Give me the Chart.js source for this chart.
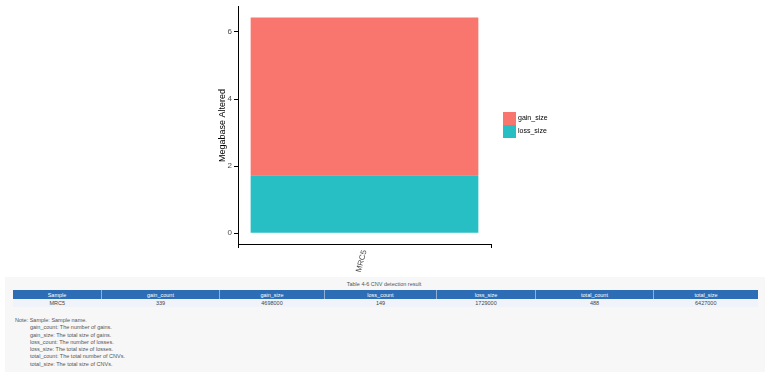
<!DOCTYPE html>
<html>
<head>
<meta charset="utf-8">
<script src="https://cdn.jsdelivr.net/npm/chart.js@4.4.1/dist/chart.umd.min.js"></script>
<style>
  body { margin: 0; background: #fff; width: 768px; height: 376px; overflow: hidden; position: relative; font-family: "Liberation Sans", Arial, sans-serif; }
  #chartBox { position: absolute; left: 0; top: 0; width: 768px; height: 276px; }
  .panel { position: absolute; left: 5px; top: 277px; width: 760px; height: 95px; background: #f7f7f7; }
  .caption { position: absolute; left: 0; top: 281px; width: 768px; text-align: center; font-size: 5.5px; color: #555; }
  table { position: absolute; left: 13px; top: 290px; border-collapse: collapse; table-layout: fixed; width: 739px; }
  th { background: #2d6db5; color: #fff; font-weight: normal; font-size: 5.5px; height: 9px; padding: 0; border-left: 1px solid #8fb0d8; }
  th:first-child { border-left: none; }
  td { background: #f0f4fa; color: #444; font-size: 5.5px; height: 8px; padding: 0; text-align: center; }
  .notes { position: absolute; left: 15px; top: 317px; font-size: 5.5px; color: #555; line-height: 7.3px; }
  .notes div.ind { padding-left: 15px; }
</style>
</head>
<body>
<div id="chartBox"><canvas id="chartCanvas" width="768" height="276"></canvas></div>
<div class="panel"></div>
<div class="caption" id="caption"></div>
<table id="dataTable"><thead><tr></tr></thead><tbody></tbody></table>
<div class="notes" id="notes"></div>
<script>
// Chart data (Megabase)
const samples = ['MRC5'];
const gainSize = [4.698];
const lossSize = [1.729];
const yTicks = [0, 2, 4, 6];

// Table data
const tableTitle = 'Table 4-6 CNV detection result';
const tableColumns = ['Sample', 'gain_count', 'gain_size', 'loss_count', 'loss_size', 'total_count', 'total_size'];
const tableRow = ['MRC5', '339', '4698000', '149', '1729000', '488', '6427000'];
const colWidths = [88, 117, 104, 111, 98, 117, 104];
const noteLines = [
    'Note: Sample: Sample name.',
    'gain_count: The number of gains.',
    'gain_size: The total size of gains.',
    'loss_count: The number of losses.',
    'loss_size: The total size of losses.',
    'total_count: The total number of CNVs.',
    'total_size: The total size of CNVs.'
];

// legend drawn on the right like ggplot
const sideLegend = {
    id: 'sideLegend',
    afterDraw(chart) {
        const c = chart.ctx;
        const box = 13;
        const x = chart.chartArea.right + 12;
        const ds = chart.data.datasets.slice().reverse();
        let y = 112;
        c.save();
        c.font = '7px "Liberation Sans", Arial, sans-serif';
        c.textBaseline = 'middle';
        ds.forEach(d => {
            c.fillStyle = d.backgroundColor;
            c.fillRect(x, y, box, box);
            c.fillStyle = '#000';
            c.fillText(d.label, x + box + 2, y + box / 2);
            y += box;
        });
        c.restore();
    }
};

const ctx = document.getElementById('chartCanvas').getContext('2d');
const cnvChart = new Chart(ctx, {
    type: 'bar',
    data: {
        labels: samples,
        datasets: [
            { label: 'loss_size', data: lossSize, backgroundColor: '#27BFC4' },
            { label: 'gain_size', data: gainSize, backgroundColor: '#F8766D' }
        ]
    },
    options: {
        responsive: false,
        animation: false,
        layout: { padding: { left: 217, right: 277, top: 3, bottom: 0 } },
        datasets: { bar: { barPercentage: 0.9, categoryPercentage: 1 } },
        plugins: { legend: { display: false }, tooltip: { enabled: false } },
        scales: {
            x: {
                stacked: true,
                offset: true,
                grid: { drawOnChartArea: false, color: '#000', tickLength: 4 },
                border: { display: true, color: '#000', width: 1 },
                ticks: {
                    minRotation: 75, maxRotation: 75, padding: 1,
                    color: '#4d4d4d',
                    font: { family: '"Liberation Sans", Arial, sans-serif', size: 8 }
                },
                afterFit(scale) { scale.height = 32; }
            },
            y: {
                stacked: true,
                min: -0.321,
                max: 6.748,
                grid: { drawOnChartArea: false, color: '#000', tickLength: 4 },
                border: { display: true, color: '#000', width: 1 },
                ticks: {
                    padding: 2,
                    color: '#4d4d4d',
                    font: { family: '"Liberation Sans", Arial, sans-serif', size: 8 }
                },
                afterBuildTicks(scale) { scale.ticks = yTicks.map(v => ({ value: v })); },
                title: {
                    display: true,
                    text: 'Megabase Altered',
                    color: '#000',
                    padding: 0,
                    font: { family: '"Liberation Sans", Arial, sans-serif', size: 9 }
                },
                afterFit(scale) { scale.width = 21; }
            }
        }
    },
    plugins: [sideLegend]
});

// Build the table under the chart
document.getElementById('caption').textContent = tableTitle;
const headRow = document.querySelector('#dataTable thead tr');
tableColumns.forEach((name, i) => {
    const th = document.createElement('th');
    th.textContent = name;
    th.style.width = colWidths[i] + 'px';
    headRow.appendChild(th);
});
const bodyRow = document.createElement('tr');
tableRow.forEach(v => {
    const td = document.createElement('td');
    td.textContent = v;
    bodyRow.appendChild(td);
});
document.querySelector('#dataTable tbody').appendChild(bodyRow);

const notes = document.getElementById('notes');
noteLines.forEach((line, i) => {
    const div = document.createElement('div');
    div.textContent = line;
    if (i > 0) div.className = 'ind';
    notes.appendChild(div);
});
</script>
</body>
</html>
